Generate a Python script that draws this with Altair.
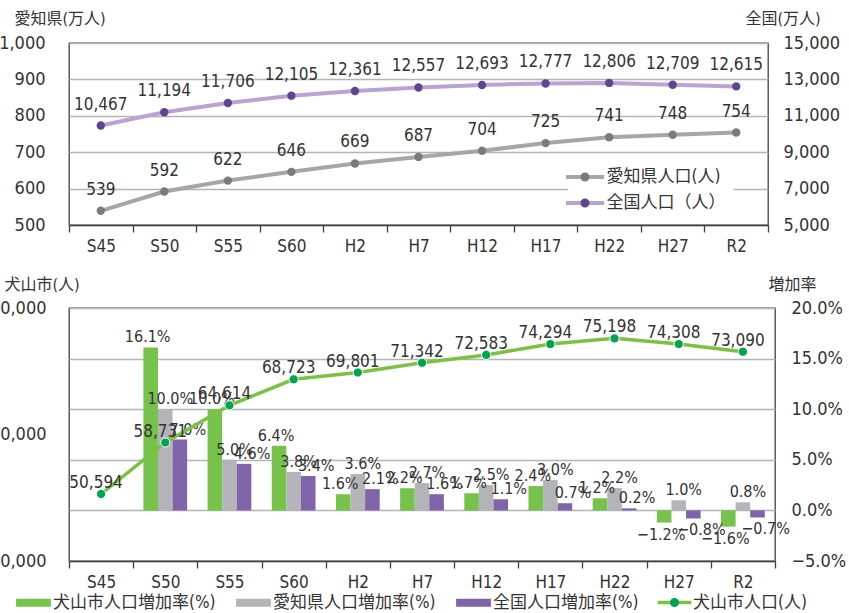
import altair as alt
import pandas as pd

# ---------------- data ----------------
years = ["S45", "S50", "S55", "S60", "H2", "H7", "H12", "H17", "H22", "H27", "R2"]

aichi_pop = [539, 592, 622, 646, 669, 687, 704, 725, 741, 748, 754]          # 万人
japan_pop = [10467, 11194, 11706, 12105, 12361, 12557, 12693, 12777, 12806, 12709, 12615]  # 万人

inuyama_pop = [50594, 58731, 64614, 68723, 69801, 71342, 72583, 74294, 75198, 74308, 73090]
inuyama_rate = [None, 16.1, 10.0, 6.4, 1.6, 2.2, 1.7, 2.4, 1.2, -1.2, -1.6]
aichi_rate = [None, 10.0, 5.0, 3.8, 3.6, 2.7, 2.5, 3.0, 2.2, 1.0, 0.8]
japan_rate = [None, 7.0, 4.6, 3.4, 2.1, 1.6, 1.1, 0.7, 0.2, -0.8, -0.7]

top_series = ["愛知県人口(人)", "全国人口（人）"]
rate_series = ["犬山市人口増加率(%)", "愛知県人口増加率(%)", "全国人口増加率(%)"]
pop_series = ["犬山市人口(人)"]

aichi_ticks = [500, 600, 700, 800, 900, 1000]
japan_ticks = [5000, 7000, 9000, 11000, 13000, 15000]
pop_ticks = [40000, 60000, 80000]
rate_ticks = [-5, 0, 5, 10, 15, 20]

# ---------------- styles ----------------
NUM = '"Liberation Sans Narrow", "DejaVu Sans Condensed", "Noto Sans CJK JP", sans-serif'
TEXT = "#333333"
DARK = "#404040"
GRID = "#b4b4b4"
top_line_colors = ["#a6a6a6", "#b9a3d3"]
top_dot_colors = ["#7b7b7b", "#5e4590"]
bar_colors = ["#77c24b", "#b3b4b8", "#8064a9"]
green_line = "#7cc144"
green_dot = "#00a350"
label_dx = {rate_series[0]: -3, rate_series[1]: 5, rate_series[2]: 8}

aichi_df = pd.DataFrame({"year": years, "value": aichi_pop, "series": top_series[0]})
japan_df = pd.DataFrame({"year": years, "value": japan_pop, "series": top_series[1]})
pop_df = pd.DataFrame({"year": years, "value": inuyama_pop, "series": pop_series[0]})
rows = []
for s, vals in zip(rate_series, [inuyama_rate, aichi_rate, japan_rate]):
    for yr, v in zip(years, vals):
        if v is not None:
            rows.append({"year": yr, "series": s, "value": v})
rate_df = pd.DataFrame(rows)


def x_enc():
    return alt.X(
        "year:N", sort=years,
        scale=alt.Scale(type="band", domain=years, paddingInner=0, paddingOuter=0),
        axis=alt.Axis(title=None, labelAngle=0, tickBand="extent", tickSize=7,
                      tickColor=DARK, tickWidth=1.3, domainColor=DARK, domainWidth=1.3,
                      labelPadding=6, labelFontSize=17, grid=False),
    )


def y_enc(domain, ticks, orient, title, title_x, title_y, label_pad, grid, fmt=None, expr=None):
    ax = dict(orient=orient, values=ticks, title=title, titleX=title_x, titleY=title_y,
              titleAngle=0, titleAlign="left", titleBaseline="middle", ticks=False,
              labelPadding=label_pad, domain=False, grid=grid, gridColor=GRID, gridWidth=1.5)
    if fmt:
        ax["format"] = fmt
    if expr:
        ax["labelExpr"] = expr
    return alt.Y("value:Q", scale=alt.Scale(domain=domain, nice=False, zero=False),
                 axis=alt.Axis(**ax))


dot_circle = "M0.75,0A0.75,0.75 0 1 1 -0.75,0A0.75,0.75 0 1 1 0.75,0Z"


def line_dot_legends(name, line_path, legend_x, legend_y, stroke_w, label_offset, pad, box):
    common = dict(title=None, orient="none", legendX=legend_x, legendY=legend_y,
                  symbolSize=144, symbolStrokeWidth=stroke_w, labelOffset=label_offset,
                  labelFontSize=17, padding=pad)
    leg_line = alt.Legend(symbolType=line_path, zindex=1,
                          **(dict(fillColor="white") if box else {}), **common)
    leg_dot = alt.Legend(symbolType=line_path + dot_circle, values=[name],
                         symbolStrokeColor="transparent", labelColor="transparent",
                         zindex=2, **common)
    return leg_line, leg_dot


# ---------------- top chart ----------------
top_line_path = "M-3.17,0H3.17"


def top_layer(df, yenc, idx, legend_y):
    name = top_series[idx]
    leg_line, leg_dot = line_dot_legends(name, top_line_path, 499.5, legend_y, 4, 13, 8, True)
    stroke = alt.Stroke("series:N", scale=alt.Scale(domain=[name], range=[top_line_colors[idx]]),
                        legend=leg_line)
    fill = alt.Fill("series:N", scale=alt.Scale(domain=[name, " "],
                                                range=[top_dot_colors[idx], "#ffffff"]),
                    legend=leg_dot)
    base = alt.Chart(df).encode(x=x_enc(), y=yenc)
    return alt.layer(
        base.mark_line(strokeWidth=4).encode(stroke=stroke),
        base.mark_circle(size=70, opacity=1).encode(fill=fill),
        base.mark_text(baseline="alphabetic", dy=-16, fontSize=17, font=NUM, color=TEXT)
            .encode(text=alt.Text("value:Q", format=",")),
    )


yA = y_enc([500, 1000], aichi_ticks, "left", "愛知県(万人)", -55, -25, 24, True, fmt=",d")
yB = y_enc([5000, 15000], japan_ticks, "right", "全国(万人)", -23, -25, 15, False, fmt=",d")

top = alt.layer(top_layer(aichi_df, yA, 0, 117.5), top_layer(japan_df, yB, 1, 143.5)).resolve_scale(
    y="independent", stroke="independent", fill="independent").properties(width=699, height=182)

# ---------------- bottom chart ----------------
pop_line_path = "M-2.8,0H2.8"
leg_bar = alt.Legend(title=None, orient="none", legendX=-44, legendY=286,
                     direction="horizontal", columns=3,
                     symbolType="M-2.9,-0.67H2.9V0.67H-2.9Z", symbolSize=144,
                     symbolStrokeWidth=0, labelOffset=11, columnPadding=20,
                     labelFontSize=17, padding=0)
leg_pop_line, leg_pop_dot = line_dot_legends(pop_series[0], pop_line_path, 597, 286,
                                             3.5, 10, 0, False)

yR = y_enc([-5, 20], rate_ticks, "right", "増加率", -7, -24, 16, True,
           expr="format(datum.value, '.1f') + '%'")
yP = y_enc([40000, 80000], pop_ticks, "left", "犬山市(人)", -65, -24, 23, False, fmt=",d")

xoff = alt.XOffset("series:N", sort=rate_series,
                   scale=alt.Scale(domain=rate_series, paddingInner=0, paddingOuter=0.7))

bars = alt.Chart(rate_df).mark_bar().encode(
    x=x_enc(), xOffset=xoff, y=yR,
    color=alt.Color("series:N", scale=alt.Scale(domain=rate_series, range=bar_colors),
                    legend=leg_bar),
)

bar_texts = []
for s in rate_series:
    for cond, base_line, dy in [("datum.value >= 0", "alphabetic", -5),
                                ("datum.value < 0", "top", 4)]:
        bar_texts.append(
            alt.Chart(rate_df)
            .transform_filter(alt.datum.series == s)
            .transform_filter(cond)
            .transform_calculate(label="format(datum.value, '.1f') + '%'")
            .mark_text(baseline=base_line, dy=dy, dx=label_dx[s], fontSize=16,
                       font=NUM, color=TEXT)
            .encode(x=x_enc(), xOffset=xoff, y=yR, text="label:N")
        )

bar_layer = alt.layer(bars, *bar_texts)

pbase = alt.Chart(pop_df).encode(x=x_enc(), y=yP)
pop_layer = alt.layer(
    pbase.mark_line(strokeWidth=3.5).encode(
        stroke=alt.Stroke("series:N", scale=alt.Scale(domain=pop_series, range=[green_line]),
                          legend=leg_pop_line)),
    pbase.mark_circle(size=85, opacity=1, stroke="white", strokeWidth=1).encode(
        fill=alt.Fill("series:N", scale=alt.Scale(domain=pop_series + [" "],
                                                  range=[green_dot, "#ffffff"]),
                      legend=leg_pop_dot)),
    pbase.mark_text(baseline="alphabetic", dy=-6, dx=-5, fontSize=17, font=NUM, color=TEXT)
        .encode(text=alt.Text("value:Q", format=",")),
)

bottom = alt.layer(bar_layer, pop_layer).resolve_scale(y="independent").properties(
    width=706, height=253)

chart = (
    alt.vconcat(top, bottom, spacing=83, bounds="flush")
    .resolve_scale(color="independent", fill="independent", stroke="independent")
    .properties(autosize=alt.AutoSizeParams(type="none"),
                padding={"left": 69, "top": 43, "right": 780, "bottom": 570})
    .configure_view(stroke=DARK, strokeWidth=1.3)
    .configure_axis(labelFont=NUM, titleFont=NUM, labelColor=TEXT, titleColor=TEXT,
                    labelFontSize=18, titleFontSize=16, titleFontWeight="normal")
    .configure_legend(labelFont=NUM, labelColor=TEXT, labelFontSize=17, labelLimit=0)
)

chart.save("out.html", embed_options={"renderer": "svg", "actions": False})
